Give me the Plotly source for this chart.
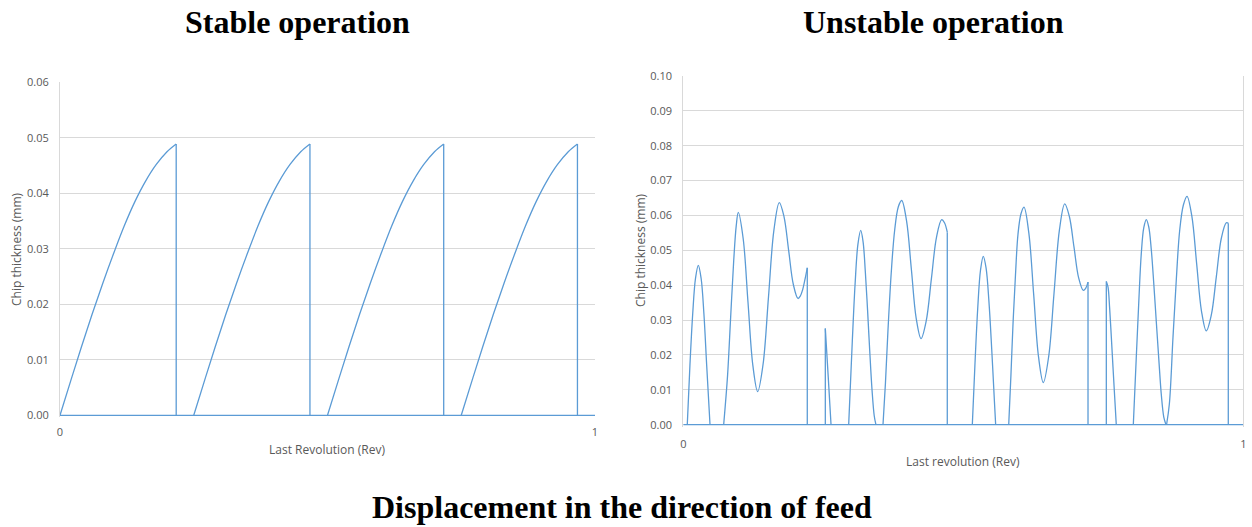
import plotly.graph_objects as go

# ---------------------------------------------------------------------------
# Data
# ---------------------------------------------------------------------------
REV_RANGE = [0.0, 1.0]

# Stable cut: one tooth pass (phase within the pass, rev) and chip thickness (mm)
TOOTH_PHASE = [0.0, 0.02, 0.04, 0.06, 0.08, 0.10, 0.12, 0.14, 0.16, 0.18,
               0.20, 0.2172]
TOOTH_THICK = [0.0, 0.0062, 0.0123, 0.0182, 0.0238, 0.0291, 0.0341, 0.0385,
               0.0422, 0.0452, 0.0475, 0.0489]
# Revolution position at which each of the four teeth enters the cut
TOOTH_START = [0.0, 0.25, 0.50, 0.75]

# Unstable cut: chip thickness (mm) vs revolution; None separates cutting bursts
UNSTABLE_REV = [
    0.0071, 0.0118, 0.0168, 0.0218, 0.0268, 0.0318, 0.0368, 0.0418, 0.0477, None,
    0.0721, 0.0790, 0.0846, 0.0900, 0.0945, 0.0982, 0.1069, 0.1155, 0.1242,
    0.1328, 0.1425, 0.1521, 0.1618, 0.1714, 0.1798, 0.1881, 0.1965, 0.2048,
    0.2090, 0.2131, 0.2172, 0.2214, None,
    0.2536, 0.2587, 0.2638, None,
    0.2953, 0.3018, 0.3068, 0.3118, 0.3168, 0.3210, 0.3250, 0.3290, 0.3328,
    0.3370, 0.3410, 0.3440, None,
    0.3566, 0.3610, 0.3655, 0.3715, 0.3774, 0.3840, 0.3900, 0.3986, 0.4073,
    0.4159, 0.4245, 0.4337, 0.4430, 0.4522, 0.4614, 0.4664, 0.4714, None,
    0.5161, 0.5207, 0.5257, 0.5307, 0.5357, 0.5407, 0.5457, 0.5507, 0.5557,
    0.5578, None,
    0.5811, 0.5850, 0.5888, 0.5932, 0.5977, 0.6030, 0.6084, 0.6170, 0.6257,
    0.6343, 0.6429, 0.6525, 0.6620, 0.6716, 0.6811, 0.6894, 0.6977, 0.7060,
    0.7143, 0.7185, 0.7227, None,
    0.7554, 0.7584, 0.7613, 0.7643, 0.7673, 0.7703, 0.7732, None,
    0.8036, 0.8088, 0.8133, 0.8178, 0.8223, 0.8268, 0.8312, 0.8357, 0.8402,
    0.8447, 0.8492, 0.8536, 0.8580, 0.8620, None,
    0.8630, 0.8680, 0.8745, 0.8805, 0.8864, 0.8930, 0.8995, 0.9081, 0.9167,
    0.9253, 0.9339, 0.9428, 0.9518, 0.9607, 0.9696, 0.9732,
]
UNSTABLE_THICK = [
    0.0, 0.0169, 0.0318, 0.0420, 0.0457, 0.0420, 0.0318, 0.0169, 0.0, None,
    0.0, 0.0140, 0.0310, 0.0470, 0.0570, 0.0609, 0.0534, 0.0352, 0.0170,
    0.0095, 0.0174, 0.0366, 0.0558, 0.0637, 0.0597, 0.0500, 0.0402, 0.0362,
    0.0369, 0.0387, 0.0416, 0.0450, None,
    0.0276, 0.0140, 0.0, None,
    0.0, 0.0240, 0.0404, 0.0517, 0.0557, 0.0525, 0.0440, 0.0330, 0.0215,
    0.0100, 0.0025, 0.0, None,
    0.0, 0.0120, 0.0271, 0.0440, 0.0557, 0.0625, 0.0643, 0.0585, 0.0445,
    0.0305, 0.0247, 0.0297, 0.0418, 0.0538, 0.0588, 0.0579, 0.0552, None,
    0.0, 0.0169, 0.0332, 0.0443, 0.0483, 0.0449, 0.0355, 0.0218, 0.0063,
    0.0, None,
    0.0, 0.0140, 0.0290, 0.0430, 0.0547, 0.0605, 0.0624, 0.0550, 0.0373,
    0.0195, 0.0121, 0.0196, 0.0377, 0.0558, 0.0633, 0.0597, 0.0509, 0.0421,
    0.0385, 0.0391, 0.0409, None,
    0.0411, 0.0395, 0.0335, 0.0252, 0.0165, 0.0080, 0.0, None,
    0.0, 0.0190, 0.0350, 0.0490, 0.0565, 0.0588, 0.0567, 0.0502, 0.0403,
    0.0294, 0.0186, 0.0086, 0.0022, 0.0, None,
    0.0, 0.0060, 0.0252, 0.0420, 0.0557, 0.0630, 0.0655, 0.0598, 0.0462,
    0.0326, 0.0269, 0.0314, 0.0424, 0.0534, 0.0579, 0.0578,
]

STABLE_YTICKS = [0.00, 0.01, 0.02, 0.03, 0.04, 0.05, 0.06]
UNSTABLE_YTICKS = [0.00, 0.01, 0.02, 0.03, 0.04, 0.05, 0.06, 0.07, 0.08, 0.09, 0.10]
X_TICKS = [0, 1]

# ---------------------------------------------------------------------------
# Styling / layout helpers
# ---------------------------------------------------------------------------
W, H = 1252, 527
LINE = "#5B9BD5"
GRID = "#D9D9D9"
TXT = "#595959"
SANS = "Open Sans"
SERIF = "Liberation Serif"


def fx(px):
    return px / W


def fy(py):
    return 1 - py / H


def split_runs(xs, ys):
    runs, cx, cy = [], [], []
    for x, y in zip(xs, ys):
        if x is None:
            if cx:
                runs.append((cx, cy))
            cx, cy = [], []
        else:
            cx.append(x)
            cy.append(y)
    if cx:
        runs.append((cx, cy))
    return runs


def edge_path(runs):
    """Zero baseline over the revolution plus the vertical entry/exit edges."""
    xs, ys = list(REV_RANGE) + [None], [0.0, 0.0, None]
    for rx, ry in runs:
        if ry[0] > 0:
            xs += [rx[0], rx[0], None]
            ys += [0.0, ry[0], None]
        if ry[-1] > 0:
            xs += [rx[-1], rx[-1], None]
            ys += [ry[-1], 0.0, None]
    return xs, ys


# Stable series assembled tooth by tooth
stable_x, stable_y = [], []
for start in TOOTH_START:
    stable_x += [start + p for p in TOOTH_PHASE] + [None]
    stable_y += list(TOOTH_THICK) + [None]

fig = go.Figure()


def add_series(xs, ys, xa, ya):
    fig.add_trace(go.Scatter(x=xs, y=ys, mode="lines", xaxis=xa, yaxis=ya,
                             line=dict(color=LINE, width=1.3, shape="spline",
                                       smoothing=1.0),
                             connectgaps=False, hoverinfo="skip", showlegend=False))
    ex, ey = edge_path(split_runs(xs, ys))
    fig.add_trace(go.Scatter(x=ex, y=ey, mode="lines", xaxis=xa, yaxis=ya,
                             line=dict(color=LINE, width=1.3),
                             connectgaps=False, hoverinfo="skip", showlegend=False))


add_series(stable_x, stable_y, "x", "y")
add_series(UNSTABLE_REV, UNSTABLE_THICK, "x2", "y2")

# Plot-area pixel anchors: (left, right, top, zero-line)
L_BOX = (60.0, 595.0, 82.3, 415.3)
R_BOX = (683.3, 1243.3, 76.0, 424.7)
PAD = 2.0  # px of room below the zero line so the baseline is fully visible


def axes_for(box, ymax, yticks, grid_x, xstand):
    x0, x1, ytop, yzero = box
    lo = -PAD * ymax / (yzero - ytop)
    xa = dict(domain=[fx(x0), fx(x1)], range=REV_RANGE, tickvals=X_TICKS,
              ticktext=[str(v) for v in X_TICKS], showgrid=grid_x, gridcolor=GRID,
              gridwidth=1, zeroline=False, showline=False, ticks="",
              tickfont=dict(family=SANS, size=11, color=TXT),
              ticklabelstandoff=xstand, automargin=False, fixedrange=True)
    ya = dict(domain=[fy(yzero + PAD), fy(ytop)], range=[lo, ymax], tickvals=yticks,
              ticktext=[f"{v:.2f}" for v in yticks], showgrid=True, gridcolor=GRID,
              gridwidth=1, zeroline=False, showline=True, linecolor=GRID,
              linewidth=1, mirror=grid_x, ticks="",
              tickfont=dict(family=SANS, size=11, color=TXT), ticklabelstandoff=8,
              automargin=False, fixedrange=True)
    return xa, ya


xa1, ya1 = axes_for(L_BOX, 0.06, STABLE_YTICKS, False, 7)
xa2, ya2 = axes_for(R_BOX, 0.10, UNSTABLE_YTICKS, True, 9)
xa1["anchor"] = "y"
ya1["anchor"] = "x"
xa2["anchor"] = "y2"
ya2["anchor"] = "x2"


def label(text, px, py, size, family, color, bold=False, angle=0):
    return dict(text=f"<b>{text}</b>" if bold else text, x=fx(px), y=fy(py),
                xref="paper", yref="paper", xanchor="center", yanchor="middle",
                showarrow=False, textangle=angle,
                font=dict(family=family, size=size, color=color))


annotations = [
    label("Stable operation", 297, 22, 32, SERIF, "#000000", bold=True),
    label("Unstable operation", 933, 22, 32, SERIF, "#000000", bold=True),
    label("Displacement in the direction of feed", 622, 507, 32, SERIF, "#000000", bold=True),
    label("Chip thickness (mm)", 17, 249, 12, SANS, TXT, angle=-90),
    label("Chip thickness (mm)", 640, 250, 12, SANS, TXT, angle=-90),
    label("Last Revolution (Rev)", 327, 449, 12, SANS, TXT),
    label("Last revolution (Rev)", 963, 461, 12, SANS, TXT),
]

fig.update_layout(
    width=W, height=H, margin=dict(l=0, r=0, t=0, b=0, autoexpand=False),
    paper_bgcolor="white", plot_bgcolor="white",
    xaxis=xa1, yaxis=ya1, xaxis2=xa2, yaxis2=ya2,
    annotations=annotations, showlegend=False,
)

fig.write_html("out.html")
